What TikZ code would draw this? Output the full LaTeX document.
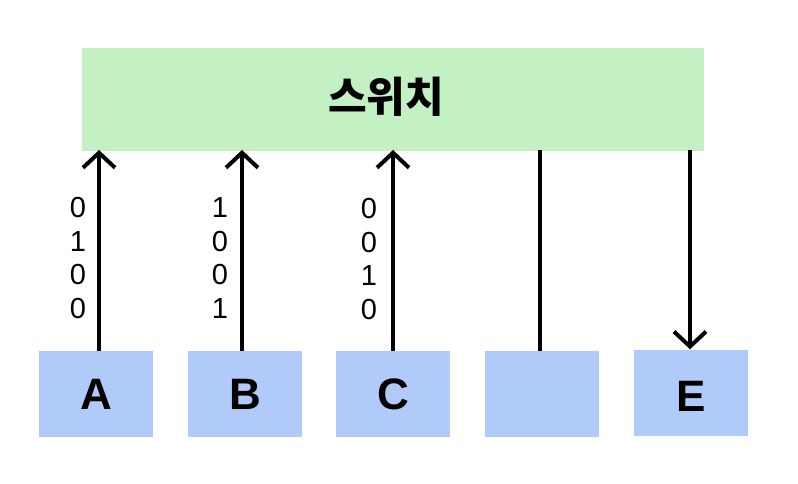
\documentclass[tikz,border=0pt]{standalone}
\usetikzlibrary{arrows.meta}
\usepackage{fontspec}
\setmainfont{Liberation Sans}
\newfontfamily\cjk{Noto Sans CJK KR}
\definecolor{swgreen}{HTML}{C3F1C3}
\definecolor{hostblue}{HTML}{B0CBFA}
\begin{document}
\begin{tikzpicture}[x=1pt,y=-1pt,
  hostbox/.style={fill=hostblue,draw=none,minimum width=114pt,minimum height=86pt,inner sep=0pt,font=\fontsize{44}{46}\selectfont\bfseries},
  link/.style={line width=4pt,black},
  arr/.style={link,-{Straight Barb[length=15pt,width=32pt,line width=4pt]}},
  bits/.style={font=\fontsize{29}{33.5}\selectfont,align=center,inner sep=0pt}]
\useasboundingbox (0,0) rectangle (798,484);
\node[fill=swgreen,minimum width=622pt,minimum height=103pt,inner sep=0pt] (sw) at (393,99.5) {};
\node[font=\cjk\fontsize{42}{44}\selectfont\bfseries,inner sep=0pt] (title) at (386,97) {스위치};
\node[hostbox] (A) at (96,394) {A};
\node[hostbox] (B) at (245,394) {B};
\node[hostbox] (C) at (393,394) {C};
\node[hostbox] (D) at (542,394) {};
\node[hostbox,text height=38.5pt,text depth=0pt] (E) at (691,392.5) {E};
\coordinate (ta) at (99,150);
\coordinate (tb) at (242,150);
\coordinate (tc) at (393,150);
\coordinate (td) at (540,150);
\coordinate (te) at (690,150);
\draw[arr] (A.north -| ta) -- (ta);
\draw[arr] (B.north -| tb) -- (tb);
\draw[arr] (C.north -| tc) -- (tc);
\draw[link] (D.north -| td) -- (td);
\draw[arr] (te) -- (E.north -| te);
\node[bits] (ba) at (78,258) {0\\1\\0\\0};
\node[bits] (bb) at (220,258) {1\\0\\0\\1};
\node[bits] (bc) at (369,259) {0\\0\\1\\0};
\end{tikzpicture}
\end{document}
